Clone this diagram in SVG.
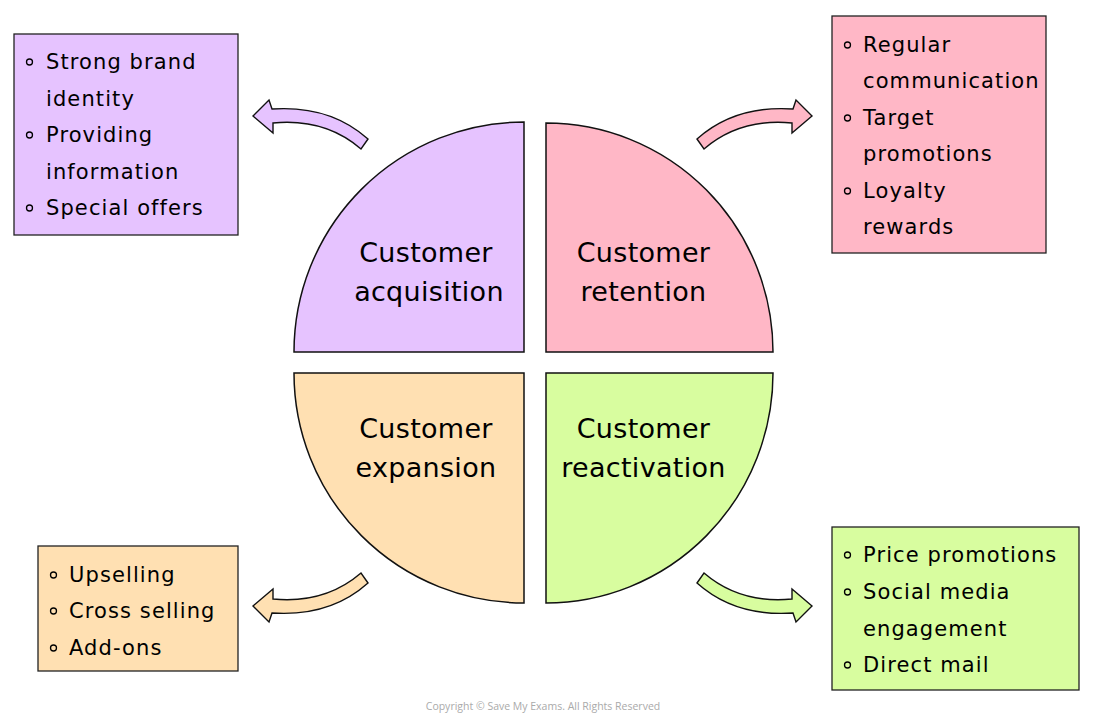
<svg xmlns="http://www.w3.org/2000/svg" width="1093" height="719" viewBox="0 0 1093 719">
<style>
.bg{fill:#ffffff}
.q{stroke:#111;stroke-width:1.5}
.box{stroke:#222;stroke-width:1.3}
.arr{stroke:#111;stroke-width:1.4;stroke-linejoin:miter}
.pur{fill:#e6c3ff}
.pnk{fill:#ffb7c6}
.org{fill:#ffe0b2}
.grn{fill:#d8fd9f}
.lbl{font-family:"DejaVu Sans",sans-serif;font-size:27px;fill:#000;text-anchor:middle;letter-spacing:0.3px}
.t{font-family:"DejaVu Sans",sans-serif;font-size:21px;fill:#000;letter-spacing:1.1px}
.b{fill:none;stroke:#000;stroke-width:1.3}
.cp{font-family:"Open Sans","Liberation Sans",sans-serif;font-size:10.5px;fill:#aaaaaa;text-anchor:middle}
</style>
<defs>
<path id="arrow" d="M253,116 L269,100 L272,109 Q330,105 368,139 L361,149 Q325,118 273,123 L273,133 Z"/>
</defs>
<rect class="bg" x="0" y="0" width="1093" height="719"/>

<g id="quadrant-acquisition">
<path class="q pur" d="M524,122 L524,352 L294,352 A230,230 0 0 1 524,122 Z"/>
<text class="lbl" x="426" y="262">Customer</text>
<text class="lbl" x="429" y="301">acquisition</text>
</g>
<g id="quadrant-retention">
<path class="q pnk" d="M546,123 A227,229 0 0 1 773,352 L546,352 Z"/>
<text class="lbl" x="643.5" y="262">Customer</text>
<text class="lbl" x="643.5" y="301">retention</text>
</g>
<g id="quadrant-expansion">
<path class="q org" d="M524,373 L524,603 A230,230 0 0 1 294,373 Z"/>
<text class="lbl" x="426" y="438">Customer</text>
<text class="lbl" x="426" y="477">expansion</text>
</g>
<g id="quadrant-reactivation">
<path class="q grn" d="M546,373 L773,373 A227,230 0 0 1 546,603 Z"/>
<text class="lbl" x="643.5" y="438">Customer</text>
<text class="lbl" x="643.5" y="477">reactivation</text>
</g>

<g id="connectors">
<use href="#arrow" class="arr pur"/>
<use href="#arrow" class="arr pnk" transform="translate(1065,0) scale(-1,1)"/>
<use href="#arrow" class="arr org" transform="translate(0,722) scale(1,-1)"/>
<use href="#arrow" class="arr grn" transform="translate(1065,722) scale(-1,-1)"/>
</g>

<g id="box-acquisition">
<rect class="box pur" x="14" y="34" width="224" height="201"/>
<circle class="b" cx="29.5" cy="62" r="3"/>
<circle class="b" cx="29.5" cy="135" r="3"/>
<circle class="b" cx="29.5" cy="208" r="3"/>
<text class="t" x="46" y="69">Strong brand</text>
<text class="t" x="46" y="106">identity</text>
<text class="t" x="46" y="142">Providing</text>
<text class="t" x="46" y="179">information</text>
<text class="t" x="46" y="215">Special offers</text>
</g>

<g id="box-retention">
<rect class="box pnk" x="832" y="16" width="214" height="237"/>
<circle class="b" cx="847.5" cy="45" r="3"/>
<circle class="b" cx="847.5" cy="118" r="3"/>
<circle class="b" cx="847.5" cy="191" r="3"/>
<text class="t" x="863" y="52">Regular</text>
<text class="t" x="863" y="88">communication</text>
<text class="t" x="863" y="125">Target</text>
<text class="t" x="863" y="161">promotions</text>
<text class="t" x="863" y="198">Loyalty</text>
<text class="t" x="863" y="234">rewards</text>
</g>

<g id="box-expansion">
<rect class="box org" x="38" y="546" width="200" height="125"/>
<circle class="b" cx="53.5" cy="575" r="3"/>
<circle class="b" cx="53.5" cy="611" r="3"/>
<circle class="b" cx="53.5" cy="648" r="3"/>
<text class="t" x="69" y="582">Upselling</text>
<text class="t" x="69" y="618">Cross selling</text>
<text class="t" x="69" y="655">Add-ons</text>
</g>

<g id="box-reactivation">
<rect class="box grn" x="832" y="527" width="247" height="163"/>
<circle class="b" cx="847.5" cy="555" r="3"/>
<circle class="b" cx="847.5" cy="592" r="3"/>
<circle class="b" cx="847.5" cy="665" r="3"/>
<text class="t" x="863" y="562">Price promotions</text>
<text class="t" x="863" y="599">Social media</text>
<text class="t" x="863" y="636">engagement</text>
<text class="t" x="863" y="672">Direct mail</text>
</g>

<text class="cp" x="543" y="710">Copyright © Save My Exams. All Rights Reserved</text>
</svg>
